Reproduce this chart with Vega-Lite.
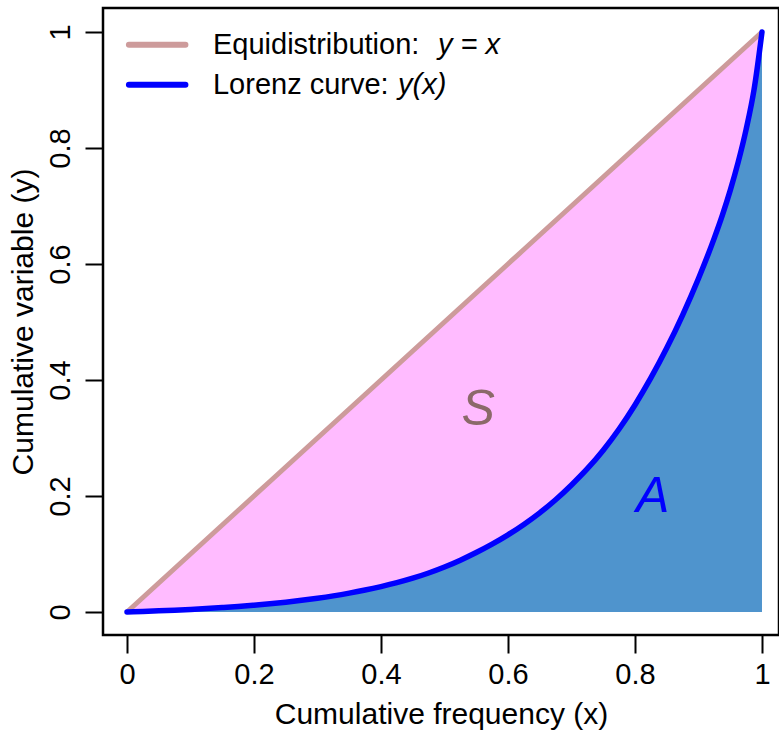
{
  "$schema": "https://vega.github.io/schema/vega-lite/v6.json",
  "width": 676,
  "height": 627,
  "autosize": {"type": "none"},
  "padding": {"left": 103, "top": 8, "right": 0, "bottom": 100},
  "background": "white",
  "config": {
    "view": {"stroke": "black", "strokeWidth": 2.5},
    "font": "Liberation Sans",
    "text": {"font": "Liberation Sans"},
    "axis": {"grid": false, "domain": false, "tickColor": "black", "tickWidth": 2, "tickSize": 18,
             "labelColor": "black", "labelFont": "Liberation Sans", "labelFontSize": 29,
             "titleColor": "black", "titleFont": "Liberation Sans", "titleFontSize": 30, "titleFontWeight": "normal"}
  },
  "datasets": {
    "curve": [
      {"x": 0, "lorenz": 0},
      {"x": 0.025, "lorenz": 0.0009},
      {"x": 0.05, "lorenz": 0.0019},
      {"x": 0.075, "lorenz": 0.0031},
      {"x": 0.1, "lorenz": 0.0044},
      {"x": 0.125, "lorenz": 0.0059},
      {"x": 0.15, "lorenz": 0.0076},
      {"x": 0.175, "lorenz": 0.0095},
      {"x": 0.2, "lorenz": 0.0117},
      {"x": 0.225, "lorenz": 0.0141},
      {"x": 0.25, "lorenz": 0.0169},
      {"x": 0.275, "lorenz": 0.0201},
      {"x": 0.3, "lorenz": 0.0237},
      {"x": 0.325, "lorenz": 0.0278},
      {"x": 0.35, "lorenz": 0.0325},
      {"x": 0.375, "lorenz": 0.0378},
      {"x": 0.4, "lorenz": 0.0438},
      {"x": 0.425, "lorenz": 0.0505},
      {"x": 0.45, "lorenz": 0.0582},
      {"x": 0.475, "lorenz": 0.0672},
      {"x": 0.5, "lorenz": 0.0775},
      {"x": 0.525, "lorenz": 0.0893},
      {"x": 0.55, "lorenz": 0.1025},
      {"x": 0.575, "lorenz": 0.1170},
      {"x": 0.6, "lorenz": 0.1330},
      {"x": 0.625, "lorenz": 0.1510},
      {"x": 0.65, "lorenz": 0.1710},
      {"x": 0.675, "lorenz": 0.1935},
      {"x": 0.7, "lorenz": 0.2190},
      {"x": 0.725, "lorenz": 0.2470},
      {"x": 0.75, "lorenz": 0.2790},
      {"x": 0.775, "lorenz": 0.3155},
      {"x": 0.8, "lorenz": 0.3570},
      {"x": 0.825, "lorenz": 0.4035},
      {"x": 0.85, "lorenz": 0.4550},
      {"x": 0.875, "lorenz": 0.5120},
      {"x": 0.9, "lorenz": 0.5750},
      {"x": 0.925, "lorenz": 0.6450},
      {"x": 0.9375, "lorenz": 0.6838},
      {"x": 0.95, "lorenz": 0.7269},
      {"x": 0.9625, "lorenz": 0.7756},
      {"x": 0.975, "lorenz": 0.8319},
      {"x": 0.9875, "lorenz": 0.9006},
      {"x": 1, "lorenz": 1}
    ],
    "one": [{"k": 1}]
  },
  "layer": [
    {
      "data": {"name": "curve"},
      "mark": {"type": "area", "fill": "#FFBBFF", "opacity": 1},
      "encoding": {
        "x": {"field": "x", "type": "quantitative", "scale": {"domain": [-0.0378, 1.0268], "nice": false, "zero": false},
              "axis": {"title": "Cumulative frequency (x)", "values": [0, 0.2, 0.4, 0.6, 0.8, 1], "format": "~g", "labelPadding": 7, "titlePadding": 10}},
        "y": {"field": "x", "type": "quantitative", "scale": {"domain": [-0.0397, 1.0414], "nice": false, "zero": false},
              "axis": {"title": "Cumulative variable (y)", "values": [0, 0.2, 0.4, 0.6, 0.8, 1], "format": "~g", "labelAngle": -90, "labelAlign": "center", "labelBaseline": "bottom", "labelPadding": 10, "titlePadding": 8}},
        "y2": {"field": "lorenz"}
      }
    },
    {
      "data": {"name": "curve"},
      "mark": {"type": "area", "fill": "#4F94CD", "opacity": 1, "interpolate": "monotone"},
      "encoding": {
        "x": {"field": "x", "type": "quantitative"},
        "y": {"field": "lorenz", "type": "quantitative"},
        "y2": {"datum": 0}
      }
    },
    {
      "data": {"name": "curve"},
      "mark": {"type": "line", "stroke": "#CD9B9B", "strokeWidth": 5},
      "encoding": {
        "x": {"field": "x", "type": "quantitative"},
        "y": {"field": "x", "type": "quantitative"}
      }
    },
    {
      "data": {"name": "curve"},
      "mark": {"type": "line", "stroke": "#0000FF", "strokeWidth": 5.5, "strokeCap": "round", "interpolate": "monotone"},
      "encoding": {
        "x": {"field": "x", "type": "quantitative"},
        "y": {"field": "lorenz", "type": "quantitative"}
      }
    },
    {
      "data": {"name": "one"},
      "mark": {"type": "rule", "stroke": "#CD9B9B", "strokeWidth": 6, "strokeCap": "round"},
      "encoding": {"x": {"datum": 0.003}, "x2": {"datum": 0.092}, "y": {"datum": 0.978}}
    },
    {
      "data": {"name": "one"},
      "mark": {"type": "rule", "stroke": "#0000FF", "strokeWidth": 6, "strokeCap": "round"},
      "encoding": {"x": {"datum": 0.003}, "x2": {"datum": 0.092}, "y": {"datum": 0.909}}
    },
    {
      "data": {"name": "one"},
      "mark": {"type": "text", "font": "Liberation Sans", "fontSize": 29, "align": "left", "baseline": "middle", "fill": "black"},
      "encoding": {"x": {"datum": 0.1354}, "y": {"datum": 0.978}, "text": {"value": "Equidistribution:"}}
    },
    {
      "data": {"name": "one"},
      "mark": {"type": "text", "font": "Liberation Sans", "fontSize": 29, "align": "left", "baseline": "middle", "fill": "black", "fontStyle": "italic"},
      "encoding": {"x": {"datum": 0.4898}, "y": {"datum": 0.978}, "text": {"value": "y = x"}}
    },
    {
      "data": {"name": "one"},
      "mark": {"type": "text", "font": "Liberation Sans", "fontSize": 29, "align": "left", "baseline": "middle", "fill": "black"},
      "encoding": {"x": {"datum": 0.1354}, "y": {"datum": 0.909}, "text": {"value": "Lorenz curve:"}}
    },
    {
      "data": {"name": "one"},
      "mark": {"type": "text", "font": "Liberation Sans", "fontSize": 29, "align": "left", "baseline": "middle", "fill": "black", "fontStyle": "italic"},
      "encoding": {"x": {"datum": 0.4268}, "y": {"datum": 0.909}, "text": {"value": "y(x)"}}
    },
    {
      "data": {"name": "one"},
      "mark": {"type": "text", "font": "Liberation Sans", "fontSize": 50, "align": "center", "baseline": "middle", "fill": "#8B6969", "fontStyle": "italic"},
      "encoding": {"x": {"datum": 0.553}, "y": {"datum": 0.348}, "text": {"value": "S"}}
    },
    {
      "data": {"name": "one"},
      "mark": {"type": "text", "font": "Liberation Sans", "fontSize": 50, "align": "center", "baseline": "middle", "fill": "#0000FF", "fontStyle": "italic"},
      "encoding": {"x": {"datum": 0.828}, "y": {"datum": 0.198}, "text": {"value": "A"}}
    }
  ]
}
